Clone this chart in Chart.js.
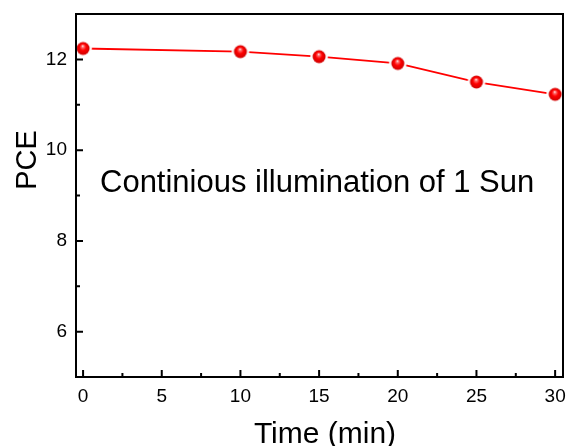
<!DOCTYPE html>
<html>
<head>
<meta charset="utf-8">
<script src="https://cdn.jsdelivr.net/npm/chart.js@4/dist/chart.umd.min.js"></script>
<style>
  html, body { margin: 0; padding: 0; background: #fff; }
  #wrap { width: 566px; height: 446px; }
</style>
</head>
<body>
<div id="wrap"><canvas id="pce-chart"></canvas></div>
<script>
// data
var times = [0, 10, 15, 20, 25, 30];
var pce = [12.24, 12.17, 12.06, 11.91, 11.50, 11.23];
var xTicks = [0, 5, 10, 15, 20, 25, 30];
var xMinor = [2.5, 7.5, 12.5, 17.5, 22.5, 27.5];
var yTicks = [6, 8, 10, 12];
var yMinor = [7, 9, 11];
var note = 'Continious illumination of 1 Sun';

var FONT = '"Liberation Sans", Arial, sans-serif';

// red ball marker with a white halo
function makeBall() {
  var c = document.createElement('canvas');
  c.width = 20; c.height = 20;
  var g = c.getContext('2d');
  g.beginPath();
  g.arc(10, 10, 8.8, 0, Math.PI * 2);
  g.fillStyle = '#fff';
  g.fill();
  var grad = g.createRadialGradient(9.6, 7.4, 0, 10, 10, 6.6);
  grad.addColorStop(0, '#ffffff');
  grad.addColorStop(0.2, '#ff6a6a');
  grad.addColorStop(0.5, '#ff0000');
  grad.addColorStop(1, '#cc0000');
  g.beginPath();
  g.arc(10, 10, 6.5, 0, Math.PI * 2);
  g.fillStyle = grad;
  g.fill();
  return c;
}

function noPad(s) {
  s.paddingTop = 0; s.paddingBottom = 0;
  s.paddingLeft = 0; s.paddingRight = 0;
}

var frame = {
  id: 'frame',
  afterDatasetsDraw: function(chart) {
    var ctx = chart.ctx, a = chart.chartArea;
    var xs = chart.scales.x, ys = chart.scales.y;
    ctx.save();
    ctx.strokeStyle = '#000';
    ctx.lineWidth = 2;
    ctx.strokeRect(a.left, a.top, a.right - a.left, a.bottom - a.top);
    ctx.beginPath();
    xTicks.forEach(function(v) {
      var px = xs.getPixelForValue(v);
      ctx.moveTo(px, a.bottom); ctx.lineTo(px, a.bottom - 7);
    });
    xMinor.forEach(function(v) {
      var px = xs.getPixelForValue(v);
      ctx.moveTo(px, a.bottom); ctx.lineTo(px, a.bottom - 4);
    });
    yTicks.forEach(function(v) {
      var py = ys.getPixelForValue(v);
      ctx.moveTo(a.left, py); ctx.lineTo(a.left + 7, py);
    });
    yMinor.forEach(function(v) {
      var py = ys.getPixelForValue(v);
      ctx.moveTo(a.left, py); ctx.lineTo(a.left + 4, py);
    });
    ctx.stroke();

    ctx.fillStyle = '#000';
    ctx.font = '31px ' + FONT;
    ctx.textAlign = 'left';
    ctx.textBaseline = 'alphabetic';
    ctx.fillText(note, 100, 192);

    ctx.font = '30px ' + FONT;
    ctx.textAlign = 'center';
    ctx.fillText('Time (min)', 325, 443);

    ctx.translate(36, 160);
    ctx.rotate(-Math.PI / 2);
    ctx.font = '29px ' + FONT;
    ctx.fillText('PCE', 0, 0);
    ctx.restore();
  }
};

new Chart(document.getElementById('pce-chart'), {
  type: 'scatter',
  data: {
    datasets: [{
      label: 'PCE',
      data: times.map(function(t, i) { return { x: t, y: pce[i] }; }),
      showLine: true,
      borderColor: '#ff0000',
      borderWidth: 1.8,
      pointStyle: makeBall(),
      pointRadius: 7,
      pointHoverRadius: 7,
      clip: false
    }]
  },
  options: {
    responsive: true,
    maintainAspectRatio: false,
    animation: false,
    events: [],
    layout: { autoPadding: false, padding: { top: 14, right: 3, left: 0, bottom: 0 } },
    plugins: {
      legend: { display: false },
      tooltip: { enabled: false }
    },
    scales: {
      x: {
        type: 'linear',
        min: -0.45,
        max: 30.5,
        afterBuildTicks: function(s) { s.ticks = xTicks.map(function(v) { return { value: v }; }); },
        afterFit: function(s) { s.height = 69; noPad(s); },
        grid: { display: false, drawTicks: false },
        border: { display: false },
        ticks: { color: '#000', padding: 8, font: { family: FONT, size: 19 } }
      },
      y: {
        min: 5,
        max: 13,
        afterBuildTicks: function(s) { s.ticks = yTicks.map(function(v) { return { value: v }; }); },
        afterFit: function(s) { s.width = 76; noPad(s); },
        grid: { display: false, drawTicks: false },
        border: { display: false },
        ticks: { color: '#000', padding: 9, font: { family: FONT, size: 19 } }
      }
    }
  },
  plugins: [frame]
});
</script>
</body>
</html>
